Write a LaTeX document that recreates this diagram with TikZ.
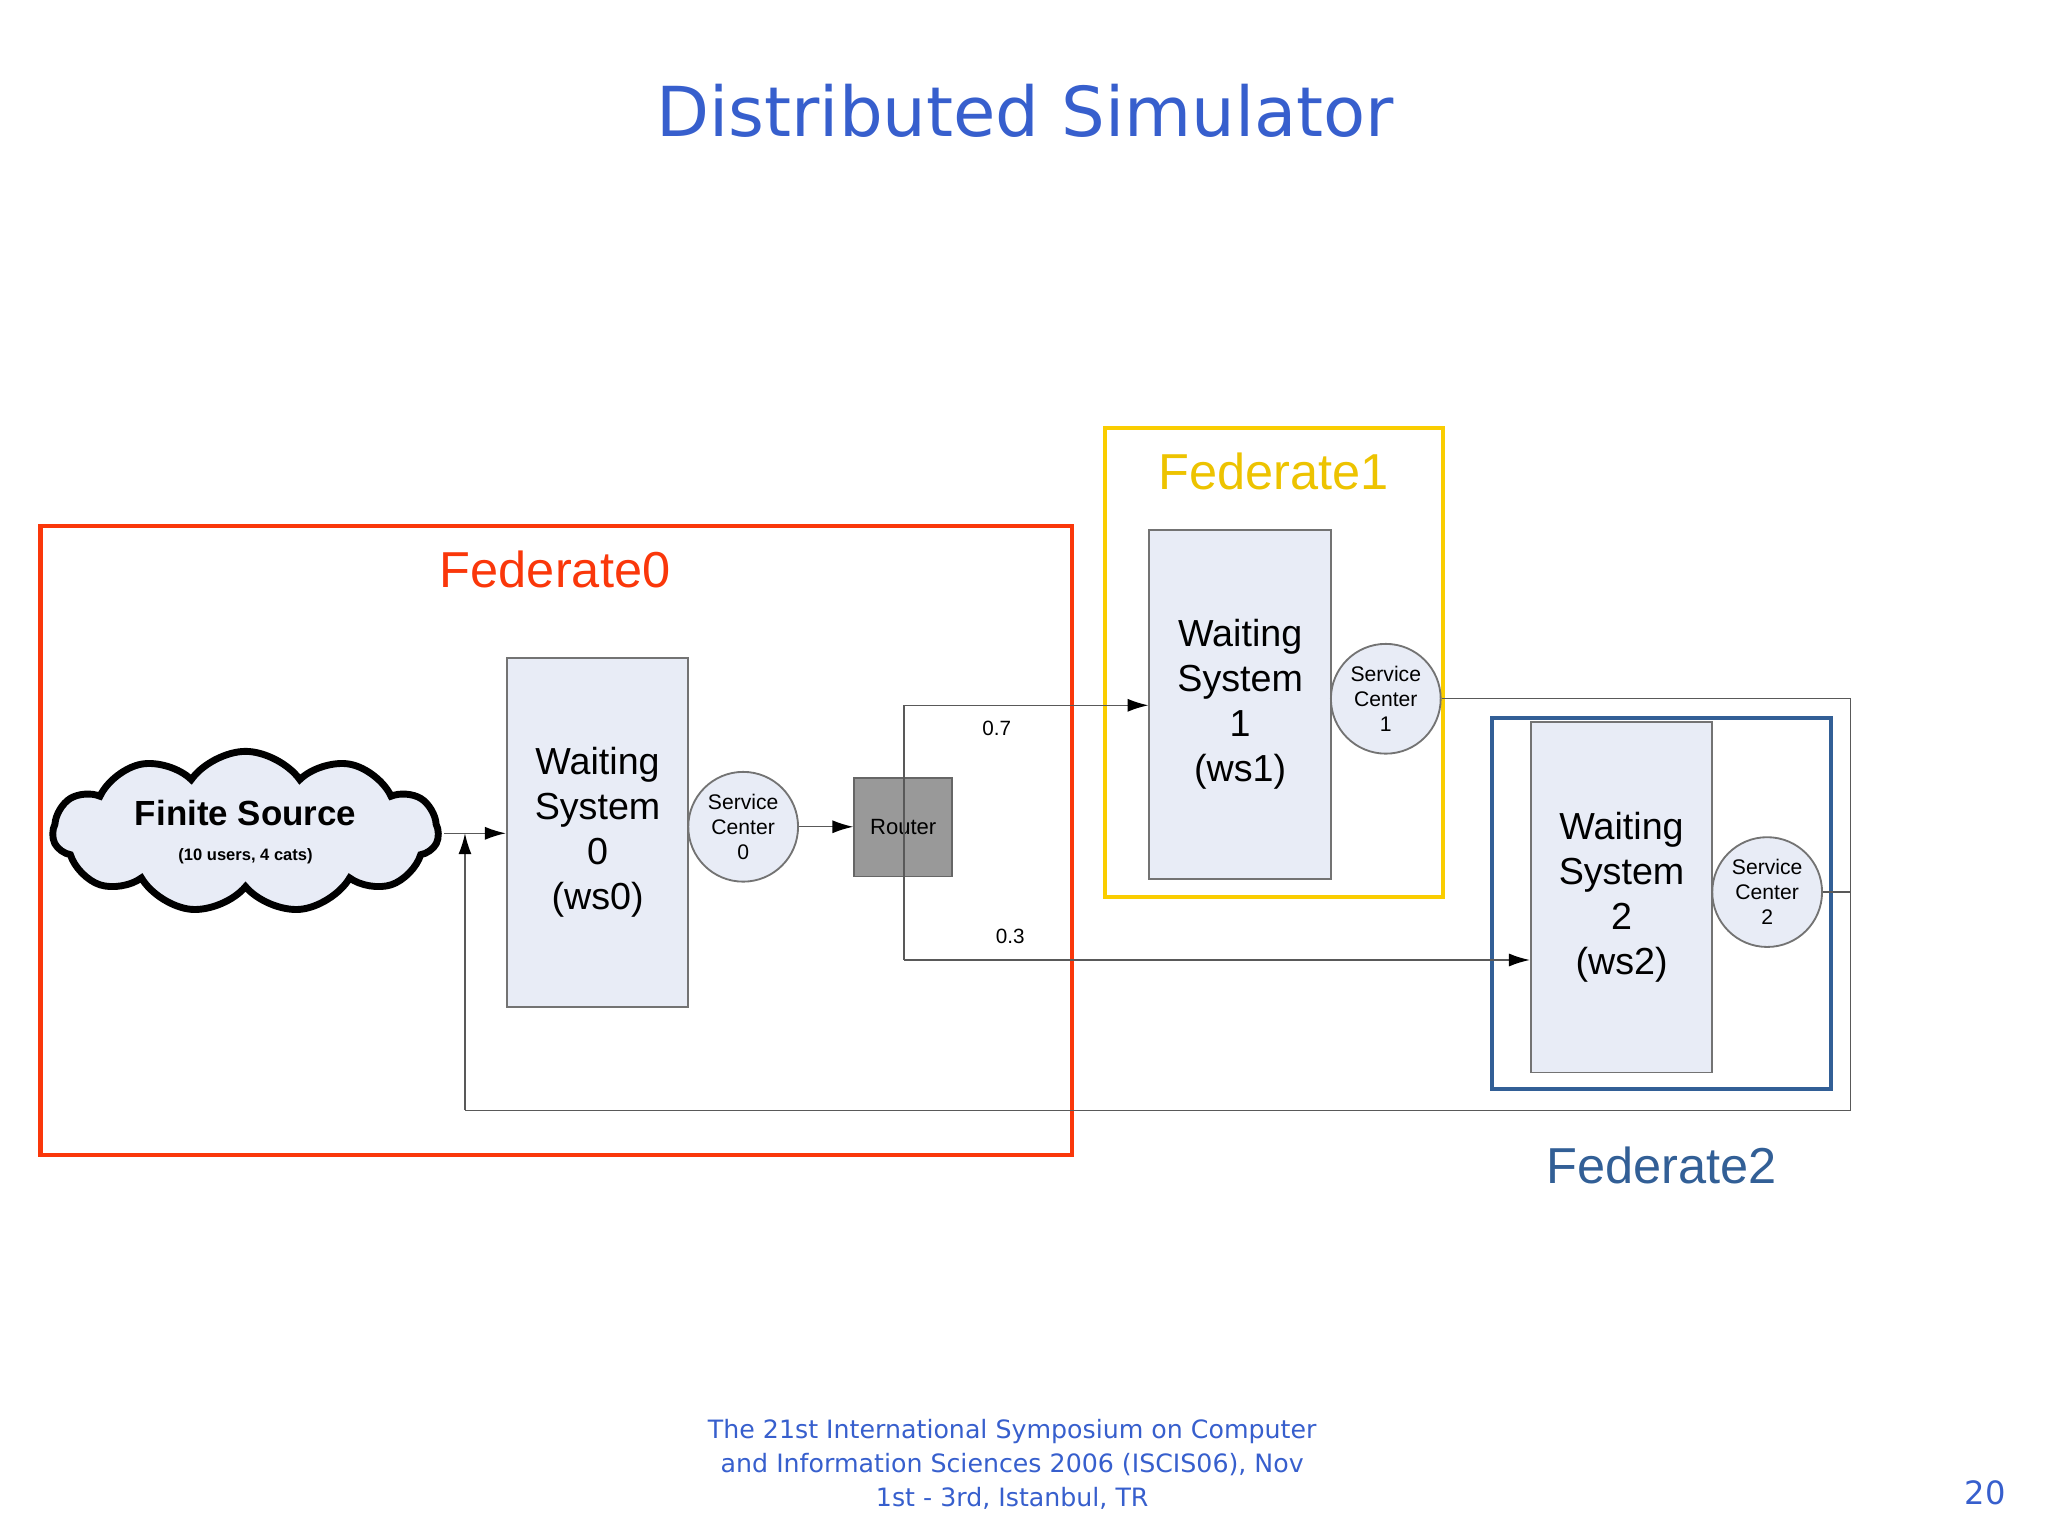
\documentclass[tikz,border=0pt]{standalone}
\usepackage{fontspec}
\setmainfont{Liberation Sans}
\newfontfamily\titlefont{DejaVu Sans}
\usetikzlibrary{shapes.symbols,arrows.meta}
\definecolor{ttl}{RGB}{55,95,205}
\definecolor{fz}{RGB}{250,55,10}
\definecolor{fo}{RGB}{250,205,0}
\definecolor{ft}{RGB}{50,95,150}
\definecolor{boxfill}{RGB}{232,236,246}
\begin{document}
\begin{tikzpicture}[x=0.01cm,y=-0.01cm,
  ws/.style={draw=black!55,fill=boxfill,line width=0.4pt,align=center,font=\fontsize{8.2pt}{9.8pt}\selectfont,inner sep=0pt},
  sc/.style={circle,draw=black!55,fill=boxfill,line width=0.4pt,minimum size=0.84cm,inner sep=0pt,align=center,font=\fontsize{4.6pt}{5.5pt}\selectfont},
  fed/.style={line width=0.9pt},
  fedlbl/.style={font=\fontsize{11pt}{13pt}\selectfont},
  conn/.style={draw=black!65,line width=0.3pt},
  arr/.style={conn,-{Latex[length=1.6mm,width=1mm,black]}},
  lbl/.style={font=\fontsize{4.5pt}{5pt}\selectfont}]
\useasboundingbox (0,0) rectangle (1568,1176);
\node[text=ttl,font=\titlefont\fontsize{15pt}{18pt}\selectfont] (title) at (785,85) {Distributed Simulator};
% federates
\draw[fed,draw=fz] (31,403) rectangle (821,884);
\node[fedlbl,text=fz] (f0) at (425,436) {Federate0};
\draw[fed,draw=fo] (846,328) rectangle (1105,687);
\node[fedlbl,text=fo!95!black] (f1) at (975,361) {Federate1};
\draw[fed,draw=ft] (1142,550) rectangle (1402,834);
\node[fedlbl,text=ft] (f2) at (1272,892) {Federate2};
% nodes
\node[ws,minimum width=1.39cm,minimum height=2.67cm] (ws0) at (457.5,637.5) {Waiting\\System\\0\\(ws0)};
\node[sc] (sc0) at (569,633) {Service\\Center\\0};
\node[draw=black!60,fill=black!40,minimum size=0.75cm,inner sep=0pt,line width=0.4pt,font=\fontsize{4.8pt}{5pt}\selectfont] (router) at (691.5,633.5) {Router};
\node[ws,minimum width=1.39cm,minimum height=2.67cm] (ws1) at (949.5,539.5) {Waiting\\System\\1\\(ws1)};
\node[sc] (sc1) at (1061,535) {Service\\Center\\1};
\node[ws,minimum width=1.39cm,minimum height=2.68cm] (ws2) at (1241.5,687) {Waiting\\System\\2\\(ws2)};
\node[sc] (sc2) at (1353,683) {Service\\Center\\2};
\node[cloud,cloud puffs=11,cloud puff arc=110,aspect=2.6,draw=black,line width=1.5pt,fill=boxfill,minimum width=2.95cm,minimum height=1.2cm,inner sep=0pt,align=center,font=\fontsize{3.6pt}{4.5pt}\selectfont] (src) at (188,637)
  {{\fontsize{7.6pt}{9pt}\selectfont\bfseries Finite Source}\\[3pt]\bfseries (10 users, 4 cats)};
% coordinates
\coordinate (rt) at (692,540);
\coordinate (rb) at (692,735);
\coordinate (e1) at (1417,535);
\coordinate (e2) at (1417,850);
\coordinate (e3) at (356,850);
\coordinate (e4) at (356,638);
\coordinate (e5) at (1417,683);
% connectors
\draw[arr] (340,638) -- (ws0.west|-0,638);
\draw[arr] (sc0.east) -- (router.west|-sc0);
\draw[conn] (rt) -- (rb);
\draw[arr] (rt) -- (ws1.west|-rt) node[lbl,pos=0.38,below] {0.7};
\draw[arr] (rb) -- (ws2.west|-rb) node[lbl,pos=0.17,above] {0.3};
\draw[conn] (sc1.east) -- (e1) -- (e2) -- (e3);
\draw[arr] (e3) -- (e4);
\draw[conn] (sc2.east) -- (e5);
% footer
\node[align=center,text=ttl,font=\titlefont\fontsize{5.5pt}{7.4pt}\selectfont] (foot) at (775,1121) {The 21st International Symposium on Computer\\and Information Sciences 2006 (ISCIS06), Nov\\1st - 3rd, Istanbul, TR};
\node[text=ttl,font=\titlefont\fontsize{7pt}{8pt}\selectfont] (pg) at (1520,1143) {20};
\end{tikzpicture}
\end{document}
